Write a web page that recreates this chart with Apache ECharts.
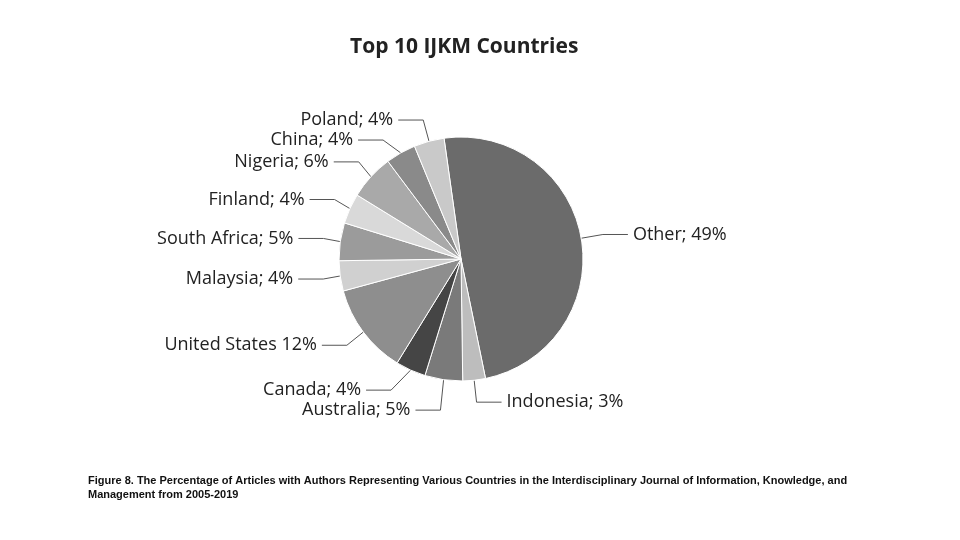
<!DOCTYPE html>
<html><head><meta charset="utf-8">
<script src="https://cdn.jsdelivr.net/npm/echarts@6/dist/echarts.min.js"></script>
<style>html,body{margin:0;background:#fff}#main{width:960px;height:540px}</style>
</head><body><div id="main"></div>
<script>
var countries = ['Other', 'Indonesia', 'Australia', 'Canada', 'United States', 'Malaysia', 'South Africa', 'Finland', 'Nigeria', 'China', 'Poland'];
var shares = [49, 3, 5, 4, 12, 4, 5, 4, 6, 4, 4];
var labelTexts = ['Other; 49%', 'Indonesia; 3%', 'Australia; 5%', 'Canada; 4%', 'United States 12%', 'Malaysia; 4%', 'South Africa; 5%', 'Finland; 4%', 'Nigeria; 6%', 'China; 4%', 'Poland; 4%'];
var greys = ['#6b6b6b', '#bdbdbd', '#7a7a7a', '#454545', '#8e8e8e', '#d0d0d0', '#9b9b9b', '#d9d9d9', '#a9a9a9', '#8a8a8a', '#c9c9c9'];

var myChart = echarts.init(document.getElementById('main'));

var option = {
  title: {
    text: 'Top 10 IJKM Countries',
    left: 345, top: 32,
    textStyle: {fontFamily: 'Open Sans', fontWeight: 'bold', fontSize: 21, color: '#222'}
  },
  color: greys,
  series: [{
    type: 'pie',
    center: [461, 259],
    radius: 122,
    startAngle: 98,
    clockwise: true,
    itemStyle: {borderColor: '#fff', borderWidth: 1},
    label: {
      formatter: function (p) { return labelTexts[p.dataIndex]; },
      fontFamily: 'Open Sans', fontSize: 18, color: '#222'
    },
    labelLine: {length: 22, length2: 25, lineStyle: {color: '#555', width: 1}},
    data: countries.map(function (c, i) { return {name: c, value: shares[i]}; })
  }],
  graphic: [{
    type: 'text', left: 88, top: 474,
    style: {
      text: 'Figure 8. The Percentage of Articles with Authors Representing Various Countries in the Interdisciplinary Journal of Information, Knowledge, and\nManagement from 2005-2019',
      font: 'bold 11px "Liberation Sans", Arial', fill: '#111', lineHeight: 14
    }
  }]
};

myChart.setOption(option);
</script></body></html>
